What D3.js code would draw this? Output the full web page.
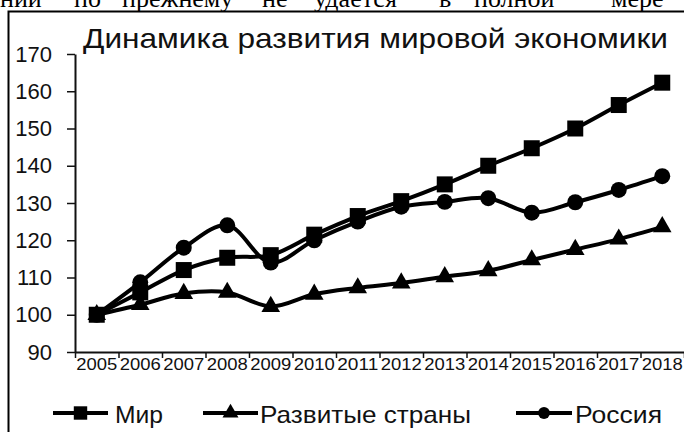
<!DOCTYPE html>
<html>
<head>
<meta charset="utf-8">
<script src="https://cdn.jsdelivr.net/npm/d3@7"></script>
<style>
    body { margin: 0; background: #fff; }
    svg { display: block; }
</style>
</head>
<body>
<div id="chart"></div>
<script>
// Chart data
var years = ["2005", "2006", "2007", "2008", "2009", "2010", "2011", "2012", "2013", "2014", "2015", "2016", "2017", "2018"];
var mir = [100, 106, 112, 115.3, 116, 121.5, 126.5, 130.5, 135, 140, 144.7, 150, 156.3, 162.3];
var razvitye = [100, 102.7, 105.7, 106, 102.2, 105.5, 107.2, 108.5, 110.2, 111.8, 114.7, 117.5, 120.3, 123.6];
var rossiya = [100, 108.7, 118, 124, 114, 120, 125, 129, 130.3, 131.3, 127.4, 130.2, 133.5, 137.2];
var yTicks = [90, 100, 110, 120, 130, 140, 150, 160, 170];
var seriesNames = ["Мир", "Развитые страны", "Россия"];

var svgWidth = 684;
var svgHeight = 432;
var font = "'Liberation Sans', Arial, sans-serif";
var ink = "#111";

var svg = d3.select("#chart")
    .append("svg")
    .attr("width", svgWidth)
    .attr("height", svgHeight);

// bit of the page text above the chart (cut off at the top)
var pageWords = [["нии", 0], ["по", 74], ["прежнему", 122], ["не", 262], ["удается", 314], ["в", 439], ["полной", 474], ["мере", 611]];
svg.selectAll("text.page")
    .data(pageWords)
    .join("text")
    .attr("class", "page")
    .attr("x", d => d[1])
    .attr("y", 7)
    .attr("font-family", "'Liberation Serif', 'Times New Roman', serif")
    .attr("font-size", 26)
    .attr("fill", "#000")
    .text(d => d[0]);

// chart frame
svg.append("rect")
    .attr("x", 8.5)
    .attr("y", 11.5)
    .attr("width", 700)
    .attr("height", 440)
    .attr("fill", "#fff")
    .attr("stroke", "#000")
    .attr("stroke-width", 2);

// title
svg.append("text")
    .attr("x", 83)
    .attr("y", 48)
    .attr("font-family", font)
    .attr("font-size", 28)
    .attr("fill", ink)
    .attr("textLength", 585)
    .attr("lengthAdjust", "spacingAndGlyphs")
    .text("Динамика  развития мировой экономики");

// scales
var xScale = d3.scaleBand()
    .domain(years)
    .range([75, 684]);
var xEdge = d3.scaleLinear()
    .domain([0, years.length])
    .range([75, 684]);
var yScale = d3.scaleLinear()
    .domain([90, 170])
    .range([352, 54]);

// y axis
var yAxis = svg.append("g")
    .attr("transform", "translate(75,0)")
    .call(d3.axisLeft(yScale).tickValues(yTicks).tickSize(8).tickSizeOuter(0).tickPadding(15));
yAxis.select(".domain").attr("stroke", ink).attr("stroke-width", 2);
yAxis.selectAll(".tick line").attr("stroke", ink).attr("stroke-width", 1.5);
yAxis.selectAll(".tick text")
    .attr("font-family", font)
    .attr("font-size", 22)
    .attr("fill", ink);

// x axis: ticks between categories
var xAxis = svg.append("g")
    .attr("transform", "translate(0,352)")
    .call(d3.axisBottom(xEdge).tickValues(d3.range(years.length + 1)).tickSize(6).tickSizeOuter(0).tickFormat(""));
xAxis.select(".domain").attr("stroke", ink).attr("stroke-width", 2);
xAxis.selectAll(".tick line").attr("stroke", ink).attr("stroke-width", 1.5);

// x labels centered on categories
var xLabels = svg.append("g")
    .attr("transform", "translate(0,352)")
    .call(d3.axisBottom(xScale).tickSize(0).tickPadding(7));
xLabels.select(".domain").remove();
xLabels.selectAll(".tick text")
    .attr("font-family", font)
    .attr("font-size", 16)
    .attr("fill", ink)
    .attr("textLength", 41)
    .attr("lengthAdjust", "spacingAndGlyphs");

// markers
var symSquare = d3.symbol().type(d3.symbolSquare).size(256);
var symTriangle = d3.symbol().type(d3.symbolTriangle).size(150);
var symCircle = d3.symbol().type(d3.symbolCircle).size(200);

var line = d3.line()
    .x((d, i) => xScale(years[i]) + xScale.bandwidth() / 2)
    .y(d => yScale(d))
    .curve(d3.curveCatmullRom.alpha(0.5));

function drawSeries(values, sym) {
    svg.append("path")
        .datum(values)
        .attr("d", line)
        .attr("fill", "none")
        .attr("stroke", "#000")
        .attr("stroke-width", 4);
    svg.append("g")
        .selectAll("path")
        .data(values)
        .join("path")
        .attr("d", sym)
        .attr("transform", (d, i) => `translate(${xScale(years[i]) + xScale.bandwidth() / 2},${yScale(d)})`)
        .attr("fill", "#000");
}

drawSeries(rossiya, symCircle);
drawSeries(razvitye, symTriangle);
drawSeries(mir, symSquare);

// legend
var legendItems = [
    { name: seriesNames[0], x0: 53, x1: 108, tx: 115, tw: 48, sym: d3.symbol().type(d3.symbolSquare).size(180) },
    { name: seriesNames[1], x0: 203, x1: 258, tx: 260, tw: 211, sym: d3.symbol().type(d3.symbolTriangle).size(110) },
    { name: seriesNames[2], x0: 516, x1: 572, tx: 575, tw: 87, sym: d3.symbol().type(d3.symbolCircle).size(110) }
];
var legend = svg.append("g");
legendItems.forEach(item => {
    legend.append("line")
        .attr("x1", item.x0)
        .attr("x2", item.x1)
        .attr("y1", 413)
        .attr("y2", 413)
        .attr("stroke", "#000")
        .attr("stroke-width", 4);
    legend.append("path")
        .attr("d", item.sym)
        .attr("transform", `translate(${(item.x0 + item.x1) / 2},413)`)
        .attr("fill", "#000");
    legend.append("text")
        .attr("x", item.tx)
        .attr("y", 423)
        .attr("font-family", font)
        .attr("font-size", 24)
        .attr("fill", ink)
        .attr("textLength", item.tw)
        .attr("lengthAdjust", "spacingAndGlyphs")
        .text(item.name);
});
</script>
</body>
</html>
